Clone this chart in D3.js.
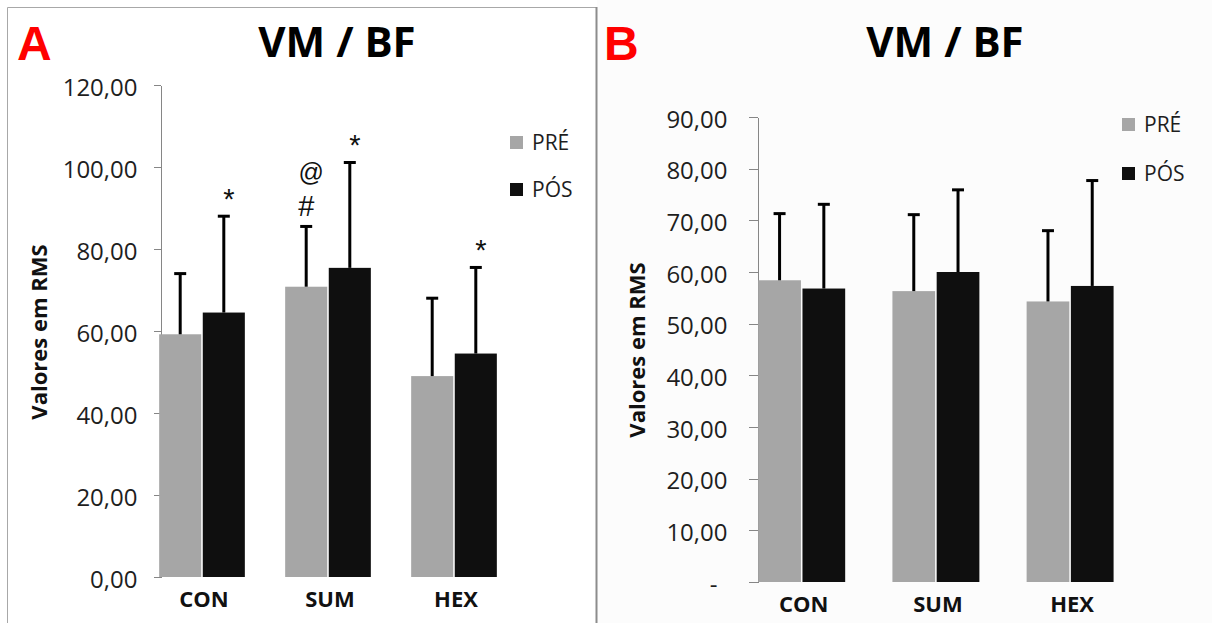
<!DOCTYPE html>
<html>
<head>
<meta charset="utf-8">
<script src="https://cdn.jsdelivr.net/npm/d3@7"></script>
<style>
	body { margin: 0; background: #ffffff; }
	svg { display: block; }
	.axis path, .axis line { stroke: #868686; shape-rendering: crispEdges; }
	.axis text { font-family: "Open Sans", sans-serif; font-size: 24px; fill: #1e1e1e; }
	.catLabel { font-family: "Open Sans", sans-serif; font-weight: bold; font-size: 22px; fill: #111; }
	.title { font-family: "Open Sans", sans-serif; font-weight: bold; font-size: 42px; fill: #000; }
	.panelTag { font-family: "Liberation Sans", Arial, sans-serif; font-weight: bold; font-size: 48px; fill: #ff0000; }
	.yLabel { font-family: "Open Sans", sans-serif; font-weight: bold; font-size: 22px; fill: #111; }
	.legendText { font-family: "Open Sans", sans-serif; font-size: 21px; fill: #1e1e1e; }
	.mark { font-family: "Liberation Sans", Arial, sans-serif; fill: #111; }
</style>
</head>
<body>
<div id="chart"></div>
<script>

// chart data
var categories = ["CON", "SUM", "HEX"];
var seriesNames = ["PRÉ", "PÓS"];

var preA = [59.2, 70.8, 49.0];
var posA = [64.5, 75.4, 54.5];
var preSdA = [14.8, 14.7, 19.0];
var posSdA = [23.5, 25.7, 21.0];

var preB = [58.4, 56.3, 54.3];
var posB = [56.8, 60.0, 57.3];
var preSdB = [12.9, 14.8, 13.7];
var posSdB = [16.3, 15.9, 20.4];

var ticksA = [0, 20, 40, 60, 80, 100, 120];
var ticksB = [0, 10, 20, 30, 40, 50, 60, 70, 80, 90];

// significance marks over panel A (series index 0 = PRÉ, 1 = PÓS)
var marksA = [
	{ cat: "CON", series: 1, label: "*" },
	{ cat: "SUM", series: 0, label: "#" },
	{ cat: "SUM", series: 0, label: "@" },
	{ cat: "SUM", series: 1, label: "*" },
	{ cat: "HEX", series: 1, label: "*" }
];

var colors = ["#a6a6a6", "#0f0f0f"];

var W = 1212, H = 623;
var svg = d3.select("#chart").append("svg")
	.attr("width", W).attr("height", H);

var ptBr = d3.formatLocale({ decimal: ",", thousands: ".", grouping: [3], currency: ["R$", ""] });
var fmt = ptBr.format(".2f");

// panel frames
svg.append("rect")
	.attr("x", 597).attr("y", 0).attr("width", W - 597).attr("height", H)
	.attr("fill", "#fcfcfc");
svg.append("path")
	.attr("d", "M7.5," + H + "V7.5H596")
	.attr("fill", "none").attr("stroke", "#a8a8a8").attr("stroke-width", 1);
svg.append("line")
	.attr("x1", 596.5).attr("x2", 596.5).attr("y1", 7).attr("y2", H)
	.attr("stroke", "#8c8c8c").attr("stroke-width", 2);


function drawPanel(p){

	var g = svg.append("g");

	var rows = categories.map(function(c, i){
		return { cat: c, values: [
			{ series: 0, value: p.pre[i], sd: p.preSd[i] },
			{ series: 1, value: p.pos[i], sd: p.posSd[i] }
		]};
	});

	var x = d3.scaleBand().domain(categories).range(p.xRange)
		.paddingInner(p.padIn).paddingOuter(p.padIn / 2);
	var xs = d3.scaleBand().domain([0, 1]).range([0, x.bandwidth()]).paddingInner(0.035);
	var y = d3.scaleLinear().domain(p.yDomain).range(p.yRange);

	// y axis
	var yAxis = d3.axisLeft(y)
		.tickValues(p.ticks)
		.tickSize(p.tickSize)
		.tickSizeOuter(0)
		.tickPadding(p.tickPad)
		.tickFormat(function(d){ return (d == 0 && p.zeroDash) ? "-" : fmt(d); });

	var gY = g.append("g")
		.attr("class", "axis")
		.attr("transform", "translate(" + p.axisX + ",0)")
		.call(yAxis);
	gY.selectAll("text").attr("dy", "0.42em");
	if(p.zeroDash){
		gY.selectAll(".tick").filter(function(d){ return d == 0; })
			.select("text").attr("dx", -10);
	}

	// bars
	var groups = g.selectAll(".grp").data(rows).enter().append("g")
		.attr("transform", function(d){ return "translate(" + x(d.cat) + ",0)"; });

	groups.selectAll("rect").data(function(d){ return d.values; }).enter().append("rect")
		.attr("x", function(d){ return xs(d.series); })
		.attr("width", xs.bandwidth())
		.attr("y", function(d){ return y(d.value); })
		.attr("height", function(d){ return y(0) - y(d.value); })
		.attr("fill", function(d){ return colors[d.series]; });

	// error bars (upper only)
	var eb = groups.selectAll(".eb").data(function(d){ return d.values; }).enter().append("g")
		.attr("stroke", "#000").attr("stroke-width", 3);
	eb.append("line")
		.attr("x1", function(d){ return xs(d.series) + xs.bandwidth() / 2; })
		.attr("x2", function(d){ return xs(d.series) + xs.bandwidth() / 2; })
		.attr("y1", function(d){ return y(d.value); })
		.attr("y2", function(d){ return y(d.value + d.sd); });
	eb.append("line")
		.attr("x1", function(d){ return xs(d.series) + xs.bandwidth() / 2 - 6; })
		.attr("x2", function(d){ return xs(d.series) + xs.bandwidth() / 2 + 6; })
		.attr("y1", function(d){ return y(d.value + d.sd); })
		.attr("y2", function(d){ return y(d.value + d.sd); });

	// category labels
	g.selectAll(".catLabel").data(categories).enter().append("text")
		.attr("class", "catLabel")
		.attr("x", function(d){ return x(d) + x.bandwidth() / 2 + 2; })
		.attr("y", p.catY)
		.attr("text-anchor", "middle")
		.text(function(d){ return d; });

	// significance marks, stacked per bar
	var stack = {};
	(p.marks || []).forEach(function(m){
		var i = categories.indexOf(m.cat);
		var v = m.series == 0 ? p.pre[i] + p.preSd[i] : p.pos[i] + p.posSd[i];
		var key = m.cat + m.series;
		var lvl = stack[key] || 0;
		stack[key] = lvl + 1;
		var cx = x(m.cat) + xs(m.series) + xs.bandwidth() / 2;
		var isStar = m.label == "*";
		g.append("text")
			.attr("class", "mark")
			.attr("x", cx + (isStar ? 5 : (lvl ? 5 : 0)))
			.attr("y", y(v) - (isStar ? 7 : 10 + lvl * 35))
			.attr("text-anchor", "middle")
			.style("font-size", m.label == "@" ? "25px" : "29px")
			.text(m.label);
	});

	// title, panel tag, y label
	g.append("text").attr("class", "title")
		.attr("x", p.titleX).attr("y", 57).attr("text-anchor", "middle")
		.text("VM / BF");
	g.append("text").attr("class", "panelTag")
		.attr("x", p.tagX).attr("y", 60)
		.text(p.tag);
	g.append("text").attr("class", "yLabel")
		.attr("transform", "translate(" + p.yLabelX + "," + p.yLabelY + ") rotate(-90)")
		.attr("text-anchor", "middle")
		.text("Valores em RMS");

	// legend
	var leg = g.selectAll(".leg").data(seriesNames).enter().append("g")
		.attr("transform", function(d, i){ return "translate(" + p.legX + "," + (p.legY + i * p.legStep) + ")"; });
	leg.append("rect")
		.attr("x", 0).attr("y", -6).attr("width", 13).attr("height", 13)
		.attr("fill", function(d, i){ return colors[i]; });
	leg.append("text").attr("class", "legendText")
		.attr("x", 22).attr("y", 8)
		.text(function(d){ return d; });
}

drawPanel({
	tag: "A", tagX: 17, titleX: 337,
	pre: preA, pos: posA, preSd: preSdA, posSd: posSdA,
	xRange: [139, 517], padIn: 0.32,
	yDomain: [0, 120], yRange: [577, 85], ticks: ticksA,
	axisX: 160.5, tickSize: 7, tickPad: 16,
	catY: 607, yLabelX: 47, yLabelY: 332,
	legX: 510, legY: 142, legStep: 47,
	marks: marksA
});

drawPanel({
	tag: "B", tagX: 604, titleX: 945,
	pre: preB, pos: posB, preSd: preSdB, posSd: posSdB,
	xRange: [734.6, 1137.2], padIn: 0.352,
	yDomain: [0, 90], yRange: [582, 117], ticks: ticksB, zeroDash: true,
	axisX: 757.5, tickSize: 9, tickPad: 21,
	catY: 612, yLabelX: 645, yLabelY: 350,
	legX: 1122, legY: 124, legStep: 49,
	marks: []
});

</script>
</body>
</html>
